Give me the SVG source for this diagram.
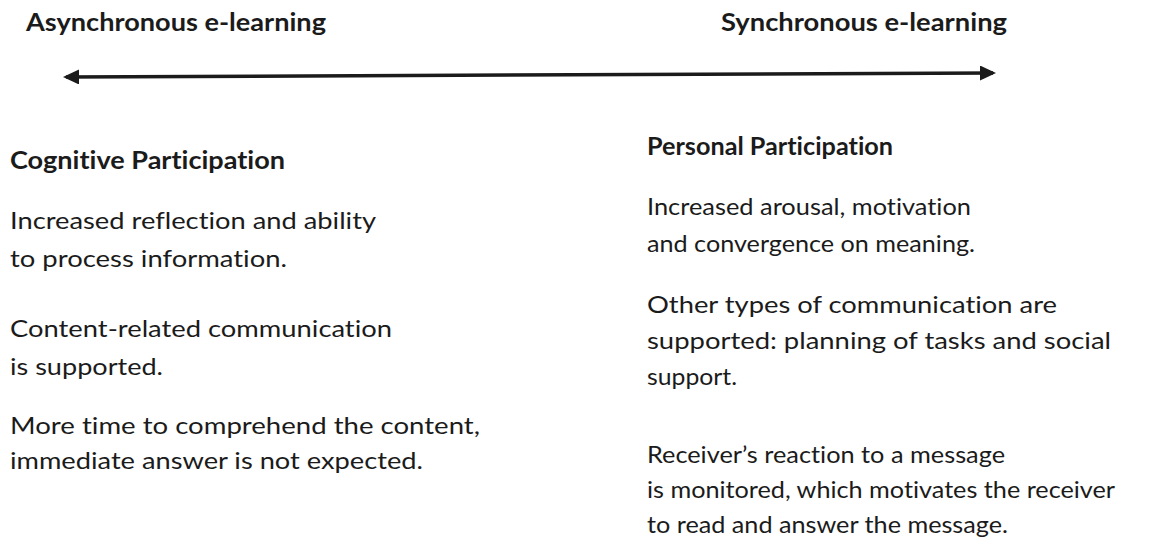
<svg xmlns="http://www.w3.org/2000/svg" width="1166" height="544" viewBox="0 0 1166 544">
  <style>
    text { font-family: Lato, "Open Sans", "Liberation Sans", sans-serif; fill: #1b1b1b; font-variant-ligatures: none; font-feature-settings: "liga" 0, "clig" 0; }
    .title { font-size: 24px; font-weight: bold; }
    .head { font-size: 24px; font-weight: bold; }
    .body { font-size: 24px; }
    .axis { stroke: #1b1b1b; stroke-width: 3.5; fill: none; }
  </style>
  <defs>
    <marker id="arrow" markerUnits="userSpaceOnUse" markerWidth="18" markerHeight="16" refX="13" refY="7.5" orient="auto-start-reverse">
      <path d="M0,0 L16,7.5 L0,15 z" fill="#1b1b1b"/>
    </marker>
  </defs>
  <rect width="1166" height="544" fill="#ffffff"/>

  <g id="async-title">
    <text class="title" x="26" y="31" textLength="300" lengthAdjust="spacingAndGlyphs">Asynchronous e-learning</text>
  </g>
  <g id="sync-title">
    <text class="title" x="721" y="31" textLength="286" lengthAdjust="spacingAndGlyphs">Synchronous e-learning</text>
  </g>

  <g id="connectors">
    <line class="axis" x1="66" y1="77" x2="993" y2="73" marker-start="url(#arrow)" marker-end="url(#arrow)"/>
  </g>

  <g id="cognitive">
    <text class="head" x="10" y="169" textLength="275" lengthAdjust="spacingAndGlyphs">Cognitive Participation</text>
    <text class="body" x="10" y="229" textLength="366" lengthAdjust="spacingAndGlyphs">Increased reflection and ability</text>
    <text class="body" x="10" y="267" textLength="277" lengthAdjust="spacingAndGlyphs">to process information.</text>
    <text class="body" x="10" y="337" textLength="382" lengthAdjust="spacingAndGlyphs">Content-related communication</text>
    <text class="body" x="10" y="375" textLength="153" lengthAdjust="spacingAndGlyphs">is supported.</text>
    <text class="body" x="10" y="434" textLength="470" lengthAdjust="spacingAndGlyphs">More time to comprehend the content,</text>
    <text class="body" x="10" y="469" textLength="413" lengthAdjust="spacingAndGlyphs">immediate answer is not expected.</text>
  </g>

  <g id="personal">
    <text class="head" x="647" y="155" textLength="246" lengthAdjust="spacingAndGlyphs">Personal Participation</text>
    <text class="body" x="647" y="215" textLength="324" lengthAdjust="spacingAndGlyphs">Increased arousal, motivation</text>
    <text class="body" x="647" y="252" textLength="328" lengthAdjust="spacingAndGlyphs">and convergence on meaning.</text>
    <text class="body" x="647" y="313" textLength="410" lengthAdjust="spacingAndGlyphs">Other types of communication are</text>
    <text class="body" x="647" y="349" textLength="464" lengthAdjust="spacingAndGlyphs">supported: planning of tasks and social</text>
    <text class="body" x="647" y="385" textLength="90" lengthAdjust="spacingAndGlyphs">support.</text>
    <text class="body" x="647" y="463" textLength="358" lengthAdjust="spacingAndGlyphs">Receiver’s reaction to a message</text>
    <text class="body" x="647" y="498" textLength="468" lengthAdjust="spacingAndGlyphs">is monitored, which motivates the receiver</text>
    <text class="body" x="647" y="533" textLength="361" lengthAdjust="spacingAndGlyphs">to read and answer the message.</text>
  </g>
</svg>
